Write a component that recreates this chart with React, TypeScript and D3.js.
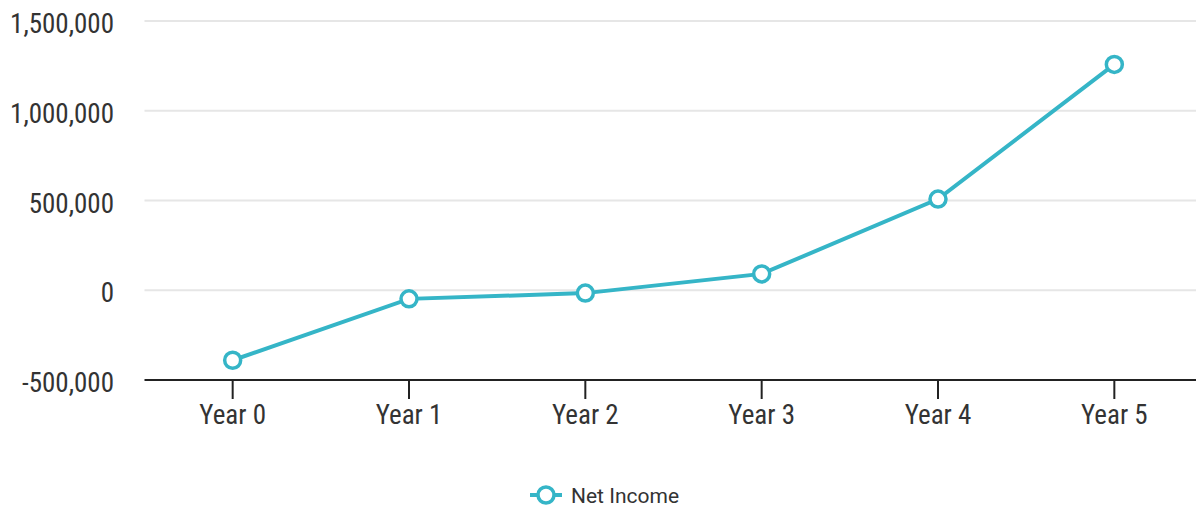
import React, { useEffect, useRef } from 'react';
import * as d3 from 'd3';

const years = ['Year 0', 'Year 1', 'Year 2', 'Year 3', 'Year 4', 'Year 5'];
const netIncome = [-390000, -48000, -16000, 91000, 508000, 1258000];
const yTicks = [-500000, 0, 500000, 1000000, 1500000];
const seriesName = 'Net Income';

const W = 1196;
const H = 510;
const LINE = '#35b5c7';
const TEXT = '#333333';
const FONT = '"Roboto Condensed", Roboto, sans-serif';

export default function App() {
  const svgRef = useRef<SVGSVGElement>(null);

  useEffect(() => {
    document.body.style.margin = '0';
    if (!svgRef.current) return;
    const svg = d3.select(svgRef.current);
    svg.selectAll('*').remove();

    const left = 144.5;
    const right = 1202.5;
    const x = d3.scalePoint<string>().domain(years).range([left, right]).padding(0.5);
    const y = d3.scaleLinear().domain([-500000, 1500000]).range([380, 21]);
    // plain hyphen for negatives, like the original
    const fmt = (v: number) => d3.format(',')(v).replace('\u2212', '-');

    // gridlines
    svg.append('g')
      .selectAll('line')
      .data(yTicks.filter(t => t !== -500000))
      .enter()
      .append('line')
      .attr('x1', left)
      .attr('x2', W)
      .attr('y1', d => y(d))
      .attr('y2', d => y(d))
      .attr('stroke', '#e6e6e6')
      .attr('stroke-width', 2);

    // y labels
    svg.append('g')
      .selectAll('text')
      .data(yTicks)
      .enter()
      .append('text')
      .attr('x', 114)
      .attr('y', d => y(d) + 12)
      .attr('text-anchor', 'end')
      .attr('fill', TEXT)
      .style('font-family', FONT)
      .style('font-stretch', 'condensed')
      .style('font-size', '27px')
      .text(d => fmt(d));

    // x axis
    const xAxis = svg.append('g').attr('transform', `translate(0,${y(-500000)})`);
    xAxis.append('line')
      .attr('x1', left)
      .attr('x2', W)
      .attr('stroke', '#222')
      .attr('stroke-width', 2);
    xAxis.selectAll('line.tick')
      .data(years)
      .enter()
      .append('line')
      .attr('class', 'tick')
      .attr('x1', d => x(d)!)
      .attr('x2', d => x(d)!)
      .attr('y1', 0)
      .attr('y2', 19)
      .attr('stroke', '#222')
      .attr('stroke-width', 2);
    xAxis.selectAll('text')
      .data(years)
      .enter()
      .append('text')
      .attr('x', d => x(d)!)
      .attr('y', 44)
      .attr('text-anchor', 'middle')
      .attr('fill', TEXT)
      .style('font-family', FONT)
      .style('font-stretch', 'condensed')
      .style('font-size', '27px')
      .text(d => d);

    // line
    const line = d3.line<number>()
      .x((_, i) => x(years[i])!)
      .y(d => y(d));

    svg.append('path')
      .datum(netIncome)
      .attr('fill', 'none')
      .attr('stroke', LINE)
      .attr('stroke-width', 4)
      .attr('d', line);

    svg.append('g')
      .selectAll('circle')
      .data(netIncome)
      .enter()
      .append('circle')
      .attr('cx', (_, i) => x(years[i])!)
      .attr('cy', d => y(d))
      .attr('r', 8)
      .attr('fill', '#fff')
      .attr('stroke', LINE)
      .attr('stroke-width', 3.5);

    // legend
    const lg = svg.append('g').attr('transform', 'translate(546,495)');
    lg.append('line')
      .attr('x1', -16)
      .attr('x2', 16)
      .attr('stroke', LINE)
      .attr('stroke-width', 4);
    lg.append('circle')
      .attr('r', 8)
      .attr('fill', '#fff')
      .attr('stroke', LINE)
      .attr('stroke-width', 3.5);
    lg.append('text')
      .attr('x', 25)
      .attr('y', 7.5)
      .attr('fill', TEXT)
      .style('font-family', 'Roboto, sans-serif')
      .style('font-size', '21px')
      .text(seriesName);
  }, []);

  return <svg ref={svgRef} width={W} height={H} style={{ display: 'block' }} />;
}
